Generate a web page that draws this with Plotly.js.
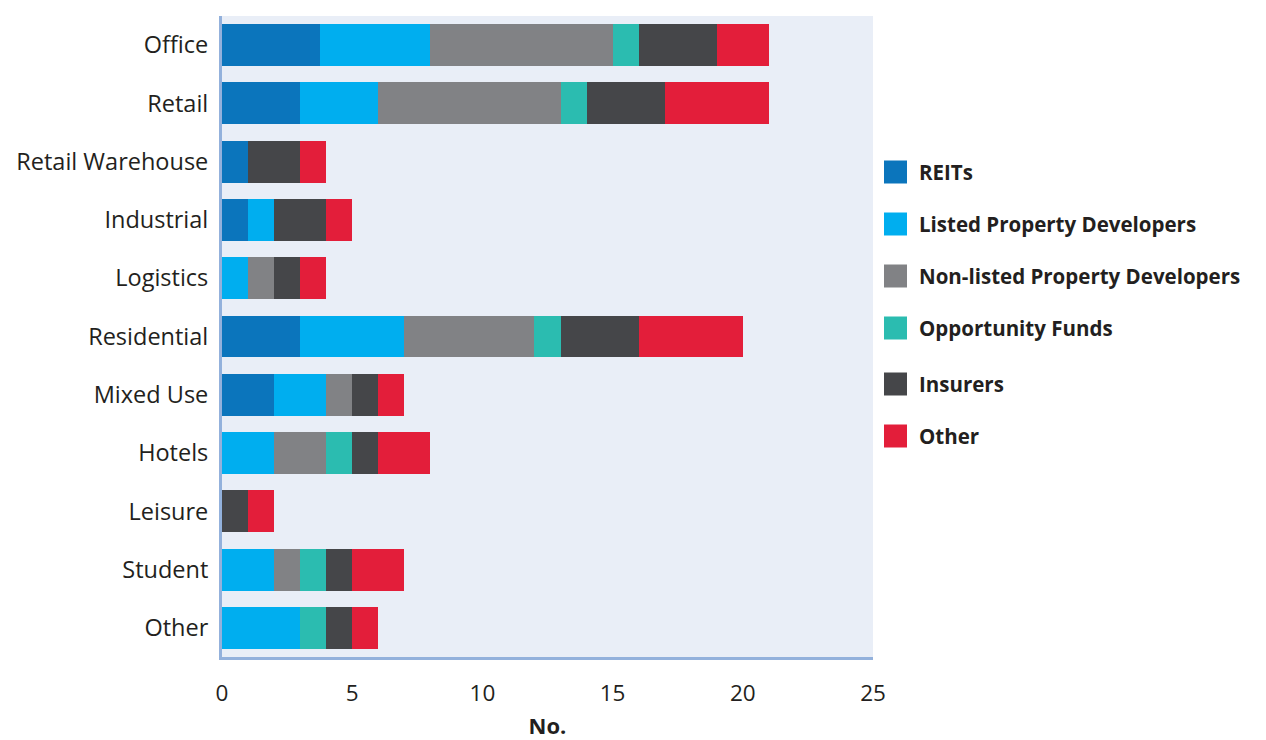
<!DOCTYPE html>
<html>
<head>
<meta charset="utf-8">
<script src="https://cdn.plot.ly/plotly-3.0.1.min.js"></script>
<style>
  html, body { margin: 0; padding: 0; background: #ffffff; }
  #chart { width: 1266px; height: 740px; }
</style>
</head>
<body>
<div id="chart"></div>
<script>
// Sectors, top to bottom
const categories = ['Office', 'Retail', 'Retail Warehouse', 'Industrial', 'Logistics',
  'Residential', 'Mixed Use', 'Hotels', 'Leisure', 'Student', 'Other'];

// Number of investors by type in each sector
const reits       = [3.75, 3, 1, 1, 0, 3, 2, 0, 0, 0, 0];
const listedDev   = [4.25, 3, 0, 1, 1, 4, 2, 2, 0, 2, 3];
const nonListed   = [7,    7, 0, 0, 1, 5, 1, 2, 0, 1, 0];
const oppFunds    = [1,    1, 0, 0, 0, 1, 0, 1, 0, 1, 1];
const insurers    = [3,    3, 2, 2, 1, 3, 1, 1, 1, 1, 1];
const otherInv    = [2,    4, 1, 1, 1, 4, 1, 2, 1, 2, 1];

const seriesNames  = ['REITs', 'Listed Property Developers', 'Non-listed Property Developers',
  'Opportunity Funds', 'Insurers', 'Other'];
const seriesValues = [reits, listedDev, nonListed, oppFunds, insurers, otherInv];
const seriesColors = ['#0B75BC', '#00AEEF', '#818285', '#2BBCB0', '#454649', '#E31E3A'];

const xTicks = [0, 5, 10, 15, 20, 25];

const FONT = '"Open Sans", "Noto Sans", sans-serif';
const TEXT = '#231F20';

const traces = seriesNames.map((name, i) => ({
  type: 'bar',
  orientation: 'h',
  name: name,
  y: categories,
  x: seriesValues[i],
  marker: { color: seriesColors[i], line: { width: 0 } },
  hoverinfo: 'name+x'
}));

// Custom legend: large square swatches with bold labels
const legendY = [172, 224, 276, 328, 384, 436];   // pixel rows of the legend entries
const plotTop = 16, plotBottom = 657, plotLeft = 222, plotRight = 873;
const pw = plotRight - plotLeft, ph = plotBottom - plotTop;
const toPx = x => (x - plotLeft) / pw;
const toPy = y => (plotBottom - y) / ph;

const shapes = [];
const annotations = [];
seriesNames.forEach((name, i) => {
  const cy = legendY[i];
  shapes.push({
    type: 'rect', xref: 'paper', yref: 'paper',
    x0: toPx(884), x1: toPx(907), y0: toPy(cy + 11.5), y1: toPy(cy - 11.5),
    fillcolor: seriesColors[i], line: { width: 0 }
  });
  annotations.push({
    xref: 'paper', yref: 'paper', x: toPx(917), y: toPy(cy),
    xanchor: 'left', yanchor: 'middle', showarrow: false,
    text: '<b>' + name + '</b>',
    font: { family: FONT, size: 20.5, color: TEXT }
  });
});

const layout = {
  width: 1266, height: 740,
  margin: { l: plotLeft, r: 1266 - plotRight, t: plotTop, b: 740 - plotBottom, pad: 0 },
  paper_bgcolor: '#ffffff',
  plot_bgcolor: '#E9EEF7',
  barmode: 'stack',
  bargap: 0.28,
  showlegend: false,
  font: { family: FONT, color: TEXT },
  xaxis: {
    range: [0, 25],
    tickvals: xTicks,
    ticktext: xTicks.map(String),
    showgrid: false, zeroline: false,
    showline: true, linecolor: '#93B1DC', linewidth: 3,
    ticks: 'outside', ticklen: 14, tickcolor: 'rgba(0,0,0,0)',
    tickfont: { family: FONT, size: 22.5, color: TEXT },
    title: { text: '<b>No.</b>', font: { family: FONT, size: 22, color: TEXT }, standoff: 19 },
    fixedrange: true
  },
  yaxis: {
    autorange: 'reversed',
    showgrid: false, zeroline: false,
    showline: true, linecolor: '#93B1DC', linewidth: 3,
    ticks: 'outside', ticklen: 6, tickcolor: 'rgba(0,0,0,0)',
    tickfont: { family: FONT, size: 23.5, color: TEXT },
    fixedrange: true
  },
  shapes: shapes,
  annotations: annotations
};

Plotly.newPlot('chart', traces, layout, { displayModeBar: false, staticPlot: true });
</script>
</body>
</html>
